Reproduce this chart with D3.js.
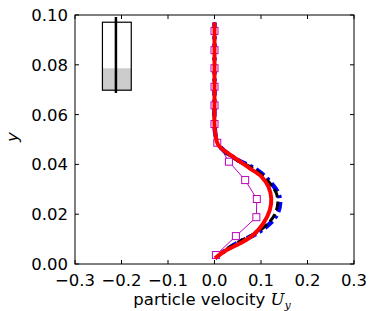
<!DOCTYPE html>
<html><head><meta charset="utf-8">
<script src="https://cdn.jsdelivr.net/npm/d3@7"></script>
<style>body{margin:0;background:#fff}svg{display:block}text{font-family:"DejaVu Sans",sans-serif}</style>
</head><body><svg id="c" width="373" height="311"></svg>
<script>
const xTicks=[-0.3,-0.2,-0.1,0.0,0.1,0.2,0.3];
const yTicks=[0.00,0.02,0.04,0.06,0.08,0.10];
const blueX=[0,0,0,0,0.003,0.012,0.044,0.091,0.119,0.137,0.141,0.134,0.116,0.091,0.055,0.019,0.001];
const blueY=[0.097,0.080,0.065,0.056,0.051,0.0471,0.0424,0.0378,0.0331,0.0284,0.0244,0.0197,0.0157,0.0123,0.0090,0.0049,0.0023];
const blackX=[0,0,0,0,0.003,0.011,0.042,0.088,0.116,0.133,0.136,0.129,0.112,0.088,0.053,0.018,0.001];
const blackY=[0.097,0.080,0.065,0.056,0.051,0.0471,0.0424,0.0378,0.0331,0.0284,0.0244,0.0197,0.0157,0.0123,0.0090,0.0049,0.0023];
const redX=[0,0,0,0,0.002,0.008,0.040,0.076,0.101,0.116,0.122,0.119,0.105,0.083,0.055,0.026,0.001];
const redY=[0.097,0.080,0.065,0.056,0.052,0.0478,0.0431,0.0384,0.0351,0.0310,0.0264,0.0217,0.0163,0.0116,0.0083,0.0056,0.0023];
const sqX=[0,0,0,0,0,0,0.006,0.031,0.066,0.091,0.090,0.046,0.003];
const sqY=[0.0936,0.0859,0.0786,0.0712,0.0637,0.0562,0.0487,0.0411,0.0337,0.0261,0.0188,0.0112,0.0036];
const insetBox=[-0.241,-0.179,0.0698,0.0971];
const insetFill=[0.0698,0.0786];
const insetRodX=-0.212, insetRodY=[0.0687,0.0992];

const svg=d3.select("#c");
const L=75,R=354,T=15,B=264;
const x=d3.scaleLinear().domain([-0.3,0.3]).range([L,R]);
const y=d3.scaleLinear().domain([0,0.1]).range([B,T]);
const fmtX=d=>d3.format(".1f")(d).replace("-","\u2212");
const fmtY=d3.format(".2f");
const FS=16.5;

// inset
svg.append("rect").attr("x",x(insetBox[0])).attr("y",y(insetFill[1])).attr("width",x(insetBox[1])-x(insetBox[0])).attr("height",y(insetFill[0])-y(insetFill[1])).attr("fill","#cccccc");
svg.append("rect").attr("x",x(insetBox[0])).attr("y",y(insetBox[3])).attr("width",x(insetBox[1])-x(insetBox[0])).attr("height",y(insetBox[2])-y(insetBox[3])).attr("fill","none").attr("stroke","#000").attr("stroke-width",1.2);
svg.append("line").attr("x1",x(insetRodX)).attr("x2",x(insetRodX)).attr("y1",y(insetRodY[0])).attr("y2",y(insetRodY[1])).attr("stroke","#000").attr("stroke-width",2.5);

const line=(xs,ys)=>d3.line().x((d,i)=>x(xs[i])).y((d,i)=>y(ys[i])).curve(d3.curveCatmullRom)(xs);
svg.append("path").attr("d",line(blueX,blueY)).attr("fill","none").attr("stroke","#0000ff").attr("stroke-width",4.5).attr("stroke-dasharray","10,4,3,4");
svg.append("path").attr("d",line(blackX,blackY)).attr("fill","none").attr("stroke","#000").attr("stroke-width",3).attr("stroke-dasharray","9,4");
svg.append("path").attr("d",d3.line().x((d,i)=>x(sqX[i])).y((d,i)=>y(sqY[i]))(sqX)).attr("fill","none").attr("stroke","#bf00bf").attr("stroke-width",1);
svg.selectAll(".sq").data(sqX).enter().append("rect").attr("x",(d,i)=>x(sqX[i])-3.5).attr("y",(d,i)=>y(sqY[i])-3.5).attr("width",7).attr("height",7).attr("fill","#fff").attr("stroke","#bf00bf").attr("stroke-width",1);
svg.append("path").attr("d",line(redX,redY)).attr("fill","none").attr("stroke","#ff0000").attr("stroke-width",4);

// frame
svg.append("rect").attr("x",L).attr("y",T).attr("width",R-L).attr("height",B-T).attr("fill","none").attr("stroke","#000").attr("stroke-width",1);
const g=svg.append("g");
xTicks.forEach(t=>{
  g.append("line").attr("x1",x(t)).attr("x2",x(t)).attr("y1",B).attr("y2",B-4).attr("stroke","#000");
  g.append("line").attr("x1",x(t)).attr("x2",x(t)).attr("y1",T).attr("y2",T+4).attr("stroke","#000");
  g.append("text").attr("x",x(t)).attr("y",286).attr("text-anchor","middle").attr("font-size",FS).text(fmtX(t));
});
yTicks.forEach(t=>{
  g.append("line").attr("x1",L).attr("x2",L+4).attr("y1",y(t)).attr("y2",y(t)).attr("stroke","#000");
  g.append("line").attr("x1",R).attr("x2",R-4).attr("y1",y(t)).attr("y2",y(t)).attr("stroke","#000");
  g.append("text").attr("x",68).attr("y",y(t)+6).attr("text-anchor","end").attr("font-size",FS).text(fmtY(t));
});
const xl=svg.append("text").attr("x",212).attr("y",305).attr("text-anchor","middle").attr("font-size",FS);
xl.append("tspan").text("particle velocity ");
xl.append("tspan").attr("font-family","DejaVu Serif").attr("font-style","italic").text("U");
xl.append("tspan").attr("font-family","DejaVu Serif").attr("font-style","italic").attr("font-size",11).attr("dy",4).text("y");
svg.append("text").attr("transform","translate(18,137) rotate(-90)").attr("text-anchor","middle").attr("font-family","DejaVu Serif").attr("font-style","italic").attr("font-size",FS).text("y");
</script></body></html>
